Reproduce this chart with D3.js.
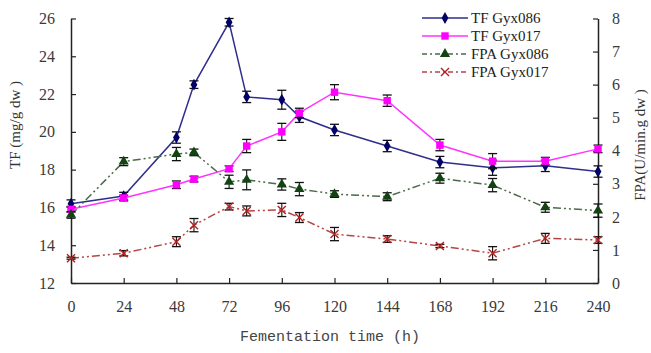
<!DOCTYPE html>
<html>
<head>
<meta charset="utf-8">
<script src="https://cdn.jsdelivr.net/npm/d3@7"></script>
<style>
  body { margin: 0; background: #fff; }
  svg text { font-family: "Liberation Serif", "DejaVu Serif", serif; }
</style>
</head>
<body>
<div id="chart"></div>
<script>
var w = 651, h = 353;
var margin = {top: 18.5, right: 53, bottom: 70, left: 71};

// sampling times (h)
var hours = [0, 24, 48, 56, 72, 80, 96, 104, 120, 144, 168, 192, 216, 240];
var xTicks = [0, 24, 48, 72, 96, 120, 144, 168, 192, 216, 240];

// TF (mg/g dw), left axis
var tf086 = [16.2, 16.6, 19.7, 22.5, 25.8, 21.85, 21.7, 20.8, 20.1, 19.25, 18.4, 18.1, 18.2, 17.9];
var tf086Err = [0.2, 0.2, 0.3, 0.2, 0.2, 0.3, 0.5, 0.3, 0.3, 0.3, 0.3, 0.4, 0.3, 0.3];
var tf017 = [15.9, 16.5, 17.2, 17.5, 18.05, 19.25, 20.0, 21.0, 22.1, 21.65, 19.3, 18.45, 18.45, 19.1];
var tf017Err = [0.15, 0.15, 0.2, 0.15, 0.15, 0.35, 0.45, 0.25, 0.4, 0.3, 0.3, 0.4, 0.2, 0.2];

// FPA (U/min.g dw), right axis
var fpa086 = [2.06, 3.67, 3.9, 3.95, 3.06, 3.12, 2.98, 2.84, 2.69, 2.61, 3.17, 2.96, 2.29, 2.19];
var fpa086Err = [0.1, 0.12, 0.2, 0.1, 0.2, 0.3, 0.17, 0.2, 0.1, 0.12, 0.15, 0.2, 0.15, 0.2];
var fpa017 = [0.75, 0.9, 1.25, 1.75, 2.31, 2.18, 2.21, 1.98, 1.48, 1.33, 1.12, 0.9, 1.35, 1.3];
var fpa017Err = [0.03, 0.08, 0.15, 0.2, 0.1, 0.15, 0.2, 0.15, 0.2, 0.1, 0.05, 0.2, 0.15, 0.1];

var svg = d3.select("#chart").append("svg")
  .attr("width", w)
  .attr("height", h);

var x = d3.scaleLinear().domain([0, 240]).range([margin.left, w - margin.right]);
var yL = d3.scaleLinear().domain([12, 26]).range([h - margin.bottom, margin.top]);
var yR = d3.scaleLinear().domain([0, 8]).range([h - margin.bottom, margin.top]);

// axes
var xAxis = svg.append("g")
  .attr("transform", "translate(0," + (h - margin.bottom) + ")")
  .call(d3.axisBottom(x).tickValues(xTicks).tickSizeInner(-5).tickSizeOuter(0).tickPadding(18));
var leftAxis = svg.append("g")
  .attr("transform", "translate(" + margin.left + ",0)")
  .call(d3.axisLeft(yL).ticks(7).tickSizeInner(-5).tickSizeOuter(0).tickPadding(16));
var rightAxis = svg.append("g")
  .attr("transform", "translate(" + (w - margin.right) + ",0)")
  .call(d3.axisRight(yR).ticks(8).tickSizeInner(-5).tickSizeOuter(0).tickPadding(14));

[xAxis, leftAxis, rightAxis].forEach(function(a) {
  a.attr("font-family", "Liberation Serif").attr("font-size", 16);
  a.select(".domain").attr("stroke", "#222").attr("stroke-width", 1.5);
  a.selectAll(".tick line").attr("stroke", "#222").attr("stroke-width", 1.2);
  a.selectAll(".tick text")
    .attr("fill", "#3a3a3a")
    .style("font-size", "16px")
    .style("font-family", "Liberation Serif");
});

// axis titles
svg.append("text")
  .attr("transform", "translate(20,125) rotate(-90)")
  .attr("text-anchor", "middle")
  .attr("fill", "#333")
  .style("font-size", "15px")
  .text("TF (mg/g dw )");

svg.append("text")
  .attr("transform", "translate(645,145) rotate(-90)")
  .attr("text-anchor", "middle")
  .attr("fill", "#333")
  .style("font-size", "15px")
  .text("FPA(U/min.g dw )");

svg.append("text")
  .attr("x", 330)
  .attr("y", 341)
  .attr("text-anchor", "middle")
  .attr("fill", "#444")
  .style("font-size", "15px")
  .style("font-family", "'Liberation Mono', 'DejaVu Sans Mono', monospace")
  .text("Fementation time (h)");

var series = [
  {name: "TF Gyx086", vals: tf086, err: tf086Err, y: yL, line: "#2e2e8c", fill: "#000066", dash: null, marker: "diamond"},
  {name: "TF Gyx017", vals: tf017, err: tf017Err, y: yL, line: "#ff33ff", fill: "#ff00ff", dash: null, marker: "square"},
  {name: "FPA Gyx086", vals: fpa086, err: fpa086Err, y: yR, line: "#4a6a4a", fill: "#134313", dash: "8,3,2,3,2,3", marker: "triangle"},
  {name: "FPA Gyx017", vals: fpa017, err: fpa017Err, y: yR, line: "#b54545", fill: "#b22222", dash: "8,3,2,3,2,3", marker: "cross"}
];

function drawMarker(g, type, color) {
  if (type === "cross") {
    g.append("path").attr("d", "M-4,-4L4,4M-4,4L4,-4")
      .attr("stroke", color).attr("stroke-width", 1.4).attr("fill", "none");
  } else {
    var sym = {diamond: d3.symbolDiamond, square: d3.symbolSquare, triangle: d3.symbolTriangle}[type];
    var size = {diamond: 40, square: 55, triangle: 45}[type];
    g.append("path").attr("d", d3.symbol().type(sym).size(size)())
      .attr("fill", color);
  }
}

series.forEach(function(s) {
  var pts = hours.map(function(t, i) { return {t: t, v: s.vals[i], e: s.err[i]}; });
  var line = d3.line()
    .x(function(d) { return x(d.t); })
    .y(function(d) { return s.y(d.v); });

  svg.append("path")
    .datum(pts)
    .attr("d", line)
    .attr("fill", "none")
    .attr("stroke", s.line)
    .attr("stroke-width", 1.5)
    .attr("stroke-dasharray", s.dash);

  var eb = svg.append("g").selectAll("g").data(pts).enter().append("g");
  eb.append("line")
    .attr("x1", function(d) { return x(d.t); })
    .attr("x2", function(d) { return x(d.t); })
    .attr("y1", function(d) { return s.y(d.v - d.e); })
    .attr("y2", function(d) { return s.y(d.v + d.e); })
    .attr("stroke", "#111").attr("stroke-width", 1.1);
  [-1, 1].forEach(function(sign) {
    eb.append("line")
      .attr("x1", function(d) { return x(d.t) - 4.5; })
      .attr("x2", function(d) { return x(d.t) + 4.5; })
      .attr("y1", function(d) { return s.y(d.v + sign * d.e); })
      .attr("y2", function(d) { return s.y(d.v + sign * d.e); })
      .attr("stroke", "#111").attr("stroke-width", 1.3);
  });

  svg.append("g").selectAll("g").data(pts).enter().append("g")
    .attr("transform", function(d) { return "translate(" + x(d.t) + "," + s.y(d.v) + ")"; })
    .each(function() { drawMarker(d3.select(this), s.marker, s.fill); });
});

// legend
var legend = svg.append("g").attr("transform", "translate(422,18)");
series.forEach(function(s, i) {
  var row = legend.append("g").attr("transform", "translate(0," + (i * 18) + ")");
  row.append("line")
    .attr("x1", 0).attr("x2", 46).attr("y1", 0).attr("y2", 0)
    .attr("stroke", s.line).attr("stroke-width", 1.5)
    .attr("stroke-dasharray", s.dash ? "5,3,2,3" : null);
  drawMarker(row.append("g").attr("transform", "translate(23,0)"), s.marker, s.fill);
  row.append("text")
    .attr("x", 49).attr("y", 5)
    .attr("fill", "#222")
    .style("font-size", "15px")
    .text(s.name);
});
</script>
</body>
</html>
